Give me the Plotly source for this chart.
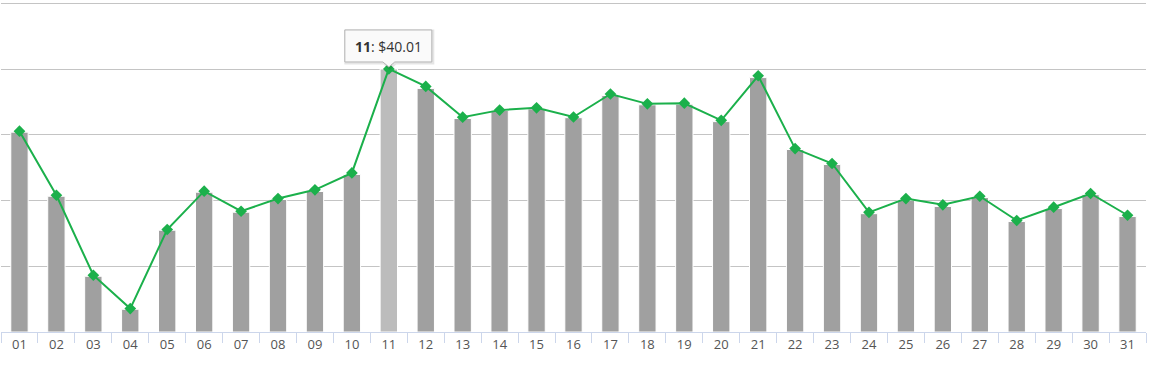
import plotly.graph_objects as go

days = [f"{d:02d}" for d in range(1, 32)]
bar_values = [30.40, 20.65, 8.48, 3.46, 15.48, 21.26, 18.22, 20.15, 21.37, 23.96,
              40.01, 37.05, 32.48, 33.70, 33.95, 32.60, 35.98, 34.56, 34.65, 32.00,
              38.70, 27.76, 25.48, 18.00, 20.05, 19.10, 20.45, 16.80, 18.78, 20.90, 17.56]
line_values = [30.55, 20.80, 8.63, 3.56, 15.59, 21.42, 18.37, 20.30, 21.63, 24.20,
               40.01, 37.35, 32.68, 33.75, 34.10, 32.70, 36.20, 34.70, 34.80, 32.20,
               38.98, 27.90, 25.63, 18.20, 20.30, 19.35, 20.65, 16.96, 18.98, 21.07, 17.76]
highlight_day = "11"
y_ticks = [0, 10, 20, 30, 40, 50]

bar_colors = ["#bcbcbc" if d == highlight_day else "#a0a0a0" for d in days]

fig = go.Figure()
fig.add_trace(go.Bar(
    x=days, y=bar_values, width=0.47,
    marker=dict(color=bar_colors, line=dict(color="#ffffff", width=1)),
    hoverinfo="skip", showlegend=False,
))
fig.add_trace(go.Scatter(
    x=days, y=line_values, mode="lines+markers",
    line=dict(color="#1bb04b", width=2),
    marker=dict(symbol="diamond", size=9, color="#1bb04b"),
    hoverinfo="skip", showlegend=False,
))

hi = days.index(highlight_day)  # category index of the hovered day
tip_path = "M -44,7 L -6,7 L 0,2 L 6,7 L 43,7 L 43,39 L -44,39 Z"
shadow_path = "M -43,6 L -5,6 L 1,1 L 7,6 L 44,6 L 44,38 L -43,38 Z"
fig.add_shape(type="path", path=shadow_path, xref="x", yref="y",
              xsizemode="pixel", ysizemode="pixel",
              xanchor=hi, yanchor=line_values[hi],
              line=dict(color="rgba(0,0,0,0.10)", width=3),
              fillcolor="rgba(0,0,0,0)", layer="above")
fig.add_shape(type="path", path=tip_path, xref="x", yref="y",
              xsizemode="pixel", ysizemode="pixel",
              xanchor=hi, yanchor=line_values[hi],
              line=dict(color="#b4b4b4", width=1),
              fillcolor="rgba(250,250,250,1)", layer="above")
fig.add_annotation(
    x=hi, y=line_values[hi], yshift=22, showarrow=False,
    text=f"<b>{highlight_day}</b>: ${line_values[hi]:.2f}",
    font=dict(family="Open Sans, DejaVu Sans", size=14, color="#333333"),
)

fig.update_layout(
    width=1151, height=366,
    margin=dict(l=1, r=5, t=0, b=34),
    paper_bgcolor="white", plot_bgcolor="white",
    font=dict(family="Open Sans, DejaVu Sans", size=13, color="#555555"),
    xaxis=dict(
        type="category", range=[-0.5, len(days) - 0.5],
        showgrid=False, showline=True, linecolor="#ccd6eb", linewidth=1,
        ticks="outside", tickson="boundaries", ticklen=10, tickcolor="#ccd6eb",
        tickfont=dict(size=13, color="#555555"), fixedrange=True,
    ),
    yaxis=dict(
        range=[0, 50.5], tickvals=y_ticks, showticklabels=False, showgrid=True,
        gridcolor="#c4c4c4", gridwidth=1, zeroline=False, fixedrange=True,
    ),
)

fig.write_html("out.html", config={"displayModeBar": False},
               post_script="document.body.style.margin='0';")
